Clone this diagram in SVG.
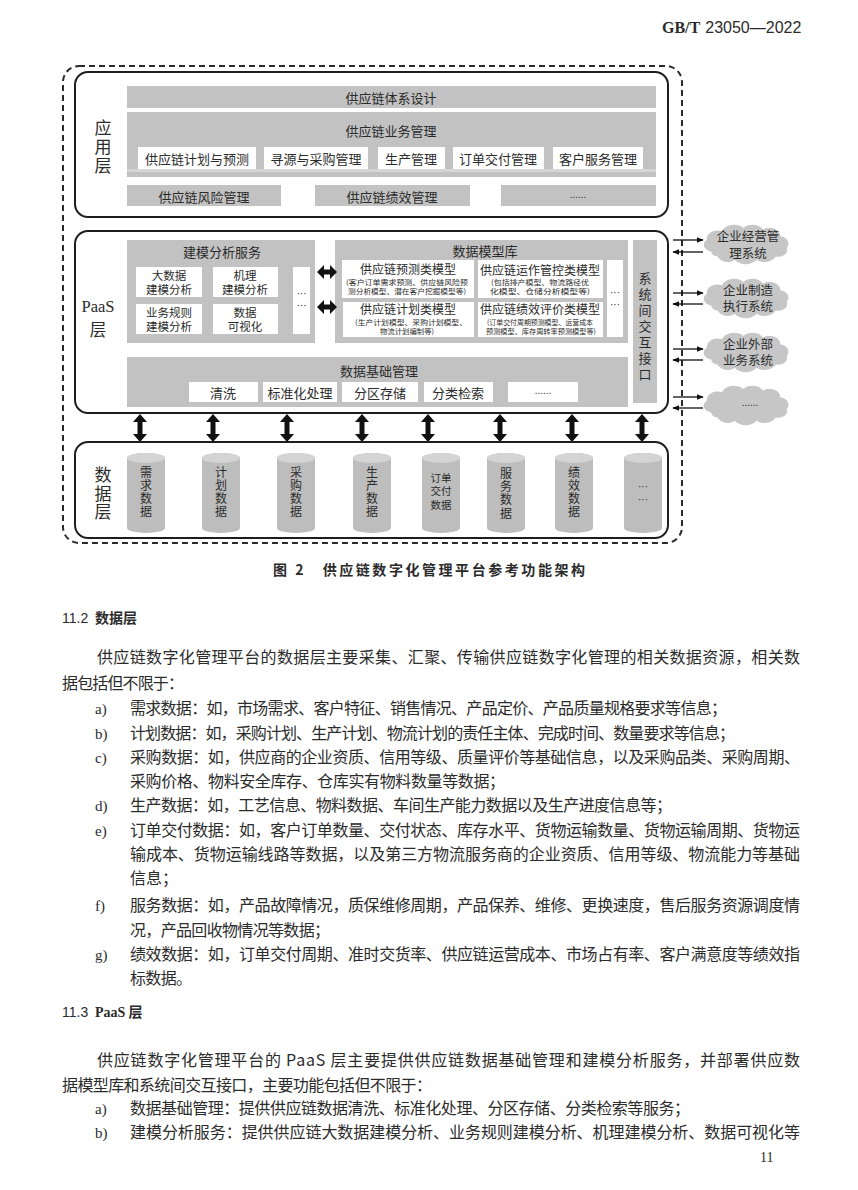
<svg xmlns="http://www.w3.org/2000/svg" xmlns:xlink="http://www.w3.org/1999/xlink" width="858" height="1190" viewBox="0 0 858 1190">
<defs>
<style>
.t{font-family:"Noto Sans CJK SC","Noto Sans",sans-serif;fill:#2b2b2b;}
.d{font-size:13px;text-anchor:middle;dominant-baseline:central;}
.dm{font-size:11.5px;text-anchor:middle;dominant-baseline:central;}
.v{writing-mode:vertical-rl;text-orientation:upright;}
.s{font-size:7px;}
.mt{font-size:12px;text-anchor:middle;}
.cy{font-size:12px;}
.dot{font-family:"Liberation Sans",sans-serif;font-size:10px;text-anchor:middle;dominant-baseline:central;fill:#2b2b2b;}
.g{fill:#c2c2c2;}
.w{fill:#fff;}
.layer{fill:#fff;stroke:#1e1e1e;stroke-width:2;}
.body{font-size:16px;}
.hd{font-size:14px;font-weight:bold;}
.ser{font-family:"Liberation Serif",serif;fill:#2b2b2b;}
.cl{fill:#c6c6c6;}
.ct{font-size:12.5px;text-anchor:middle;dominant-baseline:central;}
.ln{stroke:#111;stroke-width:1.3;fill:none;marker-end:url(#ah);}
</style>
<marker id="ah" viewBox="0 0 10 10" refX="9" refY="5" markerWidth="7" markerHeight="7" orient="auto" markerUnits="userSpaceOnUse"><path d="M0,1 L10,5 L0,9 Z" fill="#111"/></marker>
<path id="va" d="M0,-14 L7,-6 L2.5,-6 L2.5,6 L7,6 L0,14 L-7,6 L-2.5,6 L-2.5,-6 L-7,-6 Z" fill="#111"/>
<path id="ha" d="M-10,0 L-3,-7 L-3,-2.5 L3,-2.5 L3,-7 L10,0 L3,7 L3,2.5 L-3,2.5 L-3,7 Z" fill="#111"/>
<g id="cyl">
<path d="M-19,458 A19,5 0 0 1 19,458 V528 A19,5 0 0 1 -19,528 Z" fill="#bdbdbd"/>
<ellipse cx="0" cy="458" rx="19" ry="5" fill="#d4d4d4"/>
</g>
<path id="cloud" d="M-36,10 A8,8 0 0 1 -40,-4 A10,10 0 0 1 -26,-14 A12,12 0 0 1 -6,-18 A11,11 0 0 1 12,-16 A10,10 0 0 1 28,-8 A9,9 0 0 1 34,6 A8,8 0 0 1 24,16 A12,12 0 0 1 6,20 A12,12 0 0 1 -14,20 A10,10 0 0 1 -30,16 A7,7 0 0 1 -36,10 Z"/>
</defs>
<rect width="858" height="1190" fill="#fff"/>

<text x="662" y="33" font-size="16"><tspan class="ser" font-weight="bold">GB/T</tspan><tspan font-family="Liberation Sans,sans-serif" fill="#2b2b2b" dx="5">23050—2022</tspan></text>

<rect id="boundary" x="63" y="66" width="619" height="477" rx="16" fill="none" stroke="#2a2a2a" stroke-width="2" stroke-dasharray="6,4"/>

<g id="app-layer">
<rect class="layer" x="75" y="72" width="593" height="145" rx="13"/>
<text class="t v" x="103" y="119.5" font-size="17" textLength="55" lengthAdjust="spacing">应用层</text>
</g>
<g id="sc-design"><rect class="g" x="127" y="86" width="529" height="22"/><text class="t d" x="391" y="97">供应链体系设计</text></g>
<g id="sc-business">
<rect class="g" x="127" y="112" width="529" height="65"/>
<rect x="127" y="169" width="529" height="3" fill="#d6d6d6"/>
<text class="t d" x="391" y="130">供应链业务管理</text>
</g>
<g id="plan-forecast"><rect class="w" x="138" y="147" width="118" height="22"/><text class="t d" x="197" y="158">供应链计划与预测</text></g>
<g id="sourcing"><rect class="w" x="264" y="147" width="104" height="22"/><text class="t d" x="316" y="158">寻源与采购管理</text></g>
<g id="production"><rect class="w" x="378" y="147" width="67" height="22"/><text class="t d" x="411" y="158">生产管理</text></g>
<g id="order"><rect class="w" x="453" y="147" width="91" height="22"/><text class="t d" x="498" y="158">订单交付管理</text></g>
<g id="customer"><rect class="w" x="553" y="147" width="90" height="22"/><text class="t d" x="598" y="158">客户服务管理</text></g>
<g id="risk"><rect class="g" x="127" y="185" width="154" height="21"/><text class="t d" x="204" y="196">供应链风险管理</text></g>
<g id="perf"><rect class="g" x="315" y="185" width="155" height="21"/><text class="t d" x="392" y="196">供应链绩效管理</text></g>
<g id="app-more"><rect class="g" x="501" y="185" width="155" height="21"/><text class="dot" x="578" y="194">......</text></g>

<g id="paas-layer">
<rect class="layer" x="75" y="231" width="593" height="182" rx="13"/>
<text class="ser" x="98" y="312" font-size="16.5" text-anchor="middle">PaaS</text>
<text class="t" x="98" y="336" font-size="16.5" text-anchor="middle">层</text>
</g>
<g id="modeling">
<rect class="g" x="127" y="240" width="188" height="103"/>
<text class="t d" x="222" y="251">建模分析服务</text>
</g>
<g id="bigdata"><rect class="w" x="136" y="267" width="66" height="30"/><text class="t dm" x="169" y="275"><tspan x="169">大数据</tspan><tspan x="169" dy="14">建模分析</tspan></text></g>
<g id="mechanism"><rect class="w" x="213" y="267" width="65" height="30"/><text class="t dm" x="245" y="275"><tspan x="245">机理</tspan><tspan x="245" dy="14">建模分析</tspan></text></g>
<g id="rules"><rect class="w" x="136" y="304" width="66" height="30"/><text class="t dm" x="169" y="312"><tspan x="169">业务规则</tspan><tspan x="169" dy="14">建模分析</tspan></text></g>
<g id="visual"><rect class="w" x="213" y="304" width="65" height="30"/><text class="t dm" x="245" y="312"><tspan x="245">数据</tspan><tspan x="245" dy="14">可视化</tspan></text></g>
<g id="model-more"><rect class="w" x="293" y="267" width="17" height="67"/><text class="dot" x="301.5" y="293"><tspan x="301.5">···</tspan><tspan x="301.5" dy="12">···</tspan></text></g>

<g id="model-lib">
<rect class="g" x="335" y="240" width="293" height="103"/>
<text class="t d" x="485" y="250">数据模型库</text>
</g>
<g id="m-forecast"><rect class="w" x="342" y="260" width="132" height="38"/>
<text class="t" dominant-baseline="central"><tspan class="mt" x="408" y="268">供应链预测类模型</tspan><tspan class="s" x="346" y="281.5" textLength="122" lengthAdjust="spacingAndGlyphs">(客户订单需求预测、供应链风险预</tspan><tspan class="s" x="348" y="290.5" textLength="118" lengthAdjust="spacingAndGlyphs">测分析模型、潜在客户挖掘模型等)</tspan></text></g>
<g id="m-control"><rect class="w" x="478" y="260" width="125" height="38"/>
<text class="t" dominant-baseline="central"><tspan class="mt" x="540" y="268.5">供应链运作管控类模型</tspan><tspan class="s" x="491" y="282" textLength="98" lengthAdjust="spacingAndGlyphs">(包括排产模型、物流路径优</tspan><tspan class="s" x="490" y="291" textLength="100" lengthAdjust="spacingAndGlyphs">化模型、仓储分析模型等)</tspan></text></g>
<g id="m-plan"><rect class="w" x="343" y="302" width="131" height="35"/>
<text class="t" dominant-baseline="central"><tspan class="mt" x="408" y="308">供应链计划类模型</tspan><tspan class="s" x="355" y="321.5" textLength="112" lengthAdjust="spacingAndGlyphs">(生产计划模型、采购计划模型、</tspan><tspan class="s" x="380" y="330.5" textLength="54" lengthAdjust="spacingAndGlyphs">物流计划编制等)</tspan></text></g>
<g id="m-perf"><rect class="w" x="478" y="302" width="125" height="35"/>
<text class="t" dominant-baseline="central"><tspan class="mt" x="540" y="308">供应链绩效评价类模型</tspan><tspan class="s" x="487" y="321.5" textLength="106" lengthAdjust="spacingAndGlyphs">(订单交付周期预测模型、运营成本</tspan><tspan class="s" x="486" y="330.5" textLength="110" lengthAdjust="spacingAndGlyphs">预测模型、库存周转率预测模型等)</tspan></text></g>
<g id="lib-more"><rect class="w" x="607" y="260" width="16" height="77"/><text class="dot" x="615" y="292" font-size="8"><tspan x="615">···</tspan><tspan x="615" dy="12">···</tspan></text></g>

<g id="interface"><rect class="g" x="633" y="240" width="24" height="163"/>
<text class="t v" x="645" y="271.5" font-size="13" textLength="109" lengthAdjust="spacing">系统间交互接口</text></g>

<g id="data-mgmt"><rect class="g" x="127" y="357" width="501" height="50"/>
<text class="t d" x="379" y="370">数据基础管理</text></g>
<g id="clean"><rect class="w" x="189" y="382" width="69" height="20"/><text class="t d" x="223" y="392">清洗</text></g>
<g id="standard"><rect class="w" x="263" y="382" width="74" height="20"/><text class="t d" x="300" y="392">标准化处理</text></g>
<g id="partition"><rect class="w" x="342" y="382" width="76" height="20"/><text class="t d" x="380" y="392">分区存储</text></g>
<g id="retrieve"><rect class="w" x="424" y="382" width="69" height="20"/><text class="t d" x="458" y="392">分类检索</text></g>
<g id="mgmt-more"><rect class="w" x="508" y="382" width="70" height="20"/><text class="dot" x="543" y="390">......</text></g>

<g id="ext-erp"><use href="#cloud" class="cl" transform="translate(750,243) scale(1.08,0.84)"/><text class="t ct" x="748" y="235"><tspan x="748">企业经营管</tspan><tspan x="748" dy="16.5">理系统</tspan></text></g>
<g id="ext-mes"><use href="#cloud" class="cl" transform="translate(750,297) scale(1.08,0.84)"/><text class="t ct" x="748" y="288.5"><tspan x="748">企业制造</tspan><tspan x="748" dy="16.5">执行系统</tspan></text></g>
<g id="ext-biz"><use href="#cloud" class="cl" transform="translate(750,351) scale(1.08,0.84)"/><text class="t ct" x="748" y="342.5"><tspan x="748">企业外部</tspan><tspan x="748" dy="16.5">业务系统</tspan></text></g>
<g id="ext-more"><use href="#cloud" class="cl" transform="translate(750,404) scale(1.08,0.84)"/><text class="dot" x="750" y="402">......</text></g>

<g id="data-layer">
<rect class="layer" x="75" y="442" width="593" height="96" rx="13"/>
<text class="t v" x="103" y="466.5" font-size="17" textLength="54" lengthAdjust="spacing">数据层</text>
</g>
<g id="d-demand"><use href="#cyl" x="146"/><text class="t v cy" x="146" y="466" textLength="51" lengthAdjust="spacing">需求数据</text></g>
<g id="d-plan"><use href="#cyl" x="221"/><text class="t v cy" x="221" y="466" textLength="51" lengthAdjust="spacing">计划数据</text></g>
<g id="d-purchase"><use href="#cyl" x="296"/><text class="t v cy" x="296" y="466" textLength="51" lengthAdjust="spacing">采购数据</text></g>
<g id="d-prod"><use href="#cyl" x="372"/><text class="t v cy" x="372" y="466" textLength="51" lengthAdjust="spacing">生产数据</text></g>
<g id="d-order"><use href="#cyl" x="441"/><text class="t" font-size="10.5" text-anchor="middle" dominant-baseline="central" x="441" y="476.5"><tspan x="441">订单</tspan><tspan x="441" dy="13.5">交付</tspan><tspan x="441" dy="13.5">数据</tspan></text></g>
<g id="d-service"><use href="#cyl" x="506"/><text class="t v cy" x="506" y="467" textLength="52" lengthAdjust="spacing">服务数据</text></g>
<g id="d-perf"><use href="#cyl" x="574"/><text class="t v cy" x="574" y="466" textLength="51" lengthAdjust="spacing">绩效数据</text></g>
<g id="d-more"><use href="#cyl" x="643"/><text class="dot" x="643" y="486"><tspan x="643">···</tspan><tspan x="643" dy="13">···</tspan></text></g>

<g id="connectors">
<use href="#ha" x="327" y="272"/>
<use href="#ha" x="327" y="307"/>
<use href="#va" x="140" y="428"/>
<use href="#va" x="213" y="428"/>
<use href="#va" x="287" y="428"/>
<use href="#va" x="362" y="428"/>
<use href="#va" x="428" y="428"/>
<use href="#va" x="500" y="428"/>
<use href="#va" x="572" y="428"/>
<use href="#va" x="642" y="428"/>
<line class="ln" x1="673" y1="240" x2="703" y2="240"/>
<line class="ln" x1="703" y1="252" x2="673" y2="252"/>
<line class="ln" x1="673" y1="293" x2="703" y2="293"/>
<line class="ln" x1="703" y1="304" x2="673" y2="304"/>
<line class="ln" x1="673" y1="349" x2="703" y2="349"/>
<line class="ln" x1="703" y1="360" x2="673" y2="360"/>
<line class="ln" x1="673" y1="397" x2="703" y2="397"/>
<line class="ln" x1="703" y1="408" x2="673" y2="408"/>
</g>

<text class="t hd" x="273" y="575" textLength="312" lengthAdjust="spacing">图 2　供应链数字化管理平台参考功能架构</text>

<g id="body" class="t body">
<text x="62" y="623" font-size="14"><tspan font-family="Liberation Sans,sans-serif">11.2</tspan><tspan x="95" font-weight="bold">数据层</tspan></text>
<text x="97" y="663" textLength="703" lengthAdjust="spacing">供应链数字化管理平台的数据层主要采集、汇聚、传输供应链数字化管理的相关数据资源，相关数</text>
<text x="62" y="689" textLength="122" lengthAdjust="spacing">据包括但不限于：</text>
<text class="ser" x="95" y="714" font-size="15">a)</text>
<text x="130" y="714" textLength="597" lengthAdjust="spacing">需求数据：如，市场需求、客户特征、销售情况、产品定价、产品质量规格要求等信息；</text>
<text class="ser" x="95" y="739" font-size="15">b)</text>
<text x="130" y="739" textLength="605" lengthAdjust="spacing">计划数据：如，采购计划、生产计划、物流计划的责任主体、完成时间、数量要求等信息；</text>
<text class="ser" x="95" y="763" font-size="15">c)</text>
<text x="130" y="763" textLength="670" lengthAdjust="spacing">采购数据：如，供应商的企业资质、信用等级、质量评价等基础信息，以及采购品类、采购周期、</text>
<text x="130" y="787" textLength="375" lengthAdjust="spacing">采购价格、物料安全库存、仓库实有物料数量等数据；</text>
<text class="ser" x="95" y="811" font-size="15">d)</text>
<text x="130" y="811" textLength="542" lengthAdjust="spacing">生产数据：如，工艺信息、物料数据、车间生产能力数据以及生产进度信息等；</text>
<text class="ser" x="95" y="836" font-size="15">e)</text>
<text x="130" y="836" textLength="670" lengthAdjust="spacing">订单交付数据：如，客户订单数量、交付状态、库存水平、货物运输数量、货物运输周期、货物运</text>
<text x="130" y="860" textLength="670" lengthAdjust="spacing">输成本、货物运输线路等数据，以及第三方物流服务商的企业资质、信用等级、物流能力等基础</text>
<text x="130" y="884">信息；</text>
<text class="ser" x="95" y="911" font-size="15">f)</text>
<text x="130" y="911" textLength="670" lengthAdjust="spacing">服务数据：如，产品故障情况，质保维修周期，产品保养、维修、更换速度，售后服务资源调度情</text>
<text x="130" y="936" textLength="200" lengthAdjust="spacing">况，产品回收物情况等数据；</text>
<text class="ser" x="95" y="960" font-size="15">g)</text>
<text x="130" y="960" textLength="670" lengthAdjust="spacing">绩效数据：如，订单交付周期、准时交货率、供应链运营成本、市场占有率、客户满意度等绩效指</text>
<text x="130" y="984" textLength="62" lengthAdjust="spacing">标数据。</text>
<text x="62" y="1017" font-size="14"><tspan font-family="Liberation Sans,sans-serif">11.3</tspan><tspan x="95" font-weight="bold" font-family="Liberation Serif,serif">PaaS</tspan><tspan font-weight="bold"> 层</tspan></text>
<text x="97" y="1066" textLength="703" lengthAdjust="spacing">供应链数字化管理平台的 PaaS 层主要提供供应链数据基础管理和建模分析服务，并部署供应数</text>
<text x="62" y="1091" textLength="370" lengthAdjust="spacing">据模型库和系统间交互接口，主要功能包括但不限于：</text>
<text class="ser" x="95" y="1114" font-size="15">a)</text>
<text x="130" y="1114" textLength="560" lengthAdjust="spacing">数据基础管理：提供供应链数据清洗、标准化处理、分区存储、分类检索等服务；</text>
<text class="ser" x="95" y="1138" font-size="15">b)</text>
<text x="130" y="1138" textLength="670" lengthAdjust="spacing">建模分析服务：提供供应链大数据建模分析、业务规则建模分析、机理建模分析、数据可视化等</text>
<text class="ser" x="760" y="1162" font-size="14">11</text>
</g>
</svg>
